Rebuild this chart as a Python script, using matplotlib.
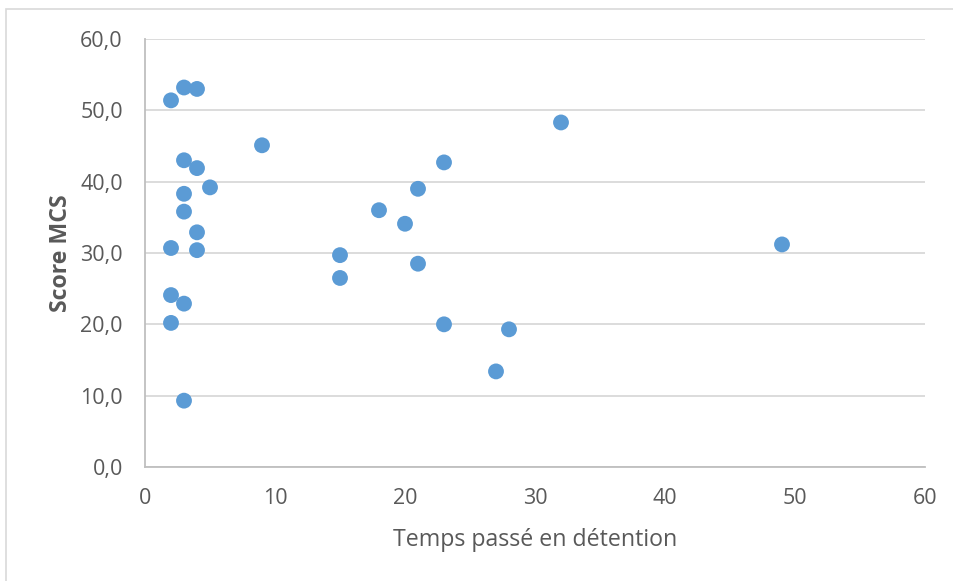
import matplotlib
matplotlib.use("Agg")
import matplotlib.pyplot as plt
from matplotlib.patches import Rectangle
from matplotlib.ticker import FuncFormatter, MultipleLocator

# Detention time (x) and MCS score (y)
temps_detention = [2, 3, 4, 9, 3, 4, 3, 5, 3, 4, 2, 4, 2, 3, 2, 3,
                   32, 23, 21, 18, 20, 15, 21, 15, 23, 28, 27, 49]
score_mcs = [51.4, 53.2, 53.0, 45.1, 43.0, 41.9, 38.3, 39.2, 35.8, 32.9,
             30.7, 30.4, 24.1, 22.9, 20.2, 9.3,
             48.3, 42.7, 39.0, 36.0, 34.1, 29.7, 28.5, 26.5, 20.0, 19.3,
             13.4, 31.2]

x_label = "Temps passé en détention"
y_label = "Score MCS"

plt.rcParams["font.family"] = ["Open Sans", "DejaVu Sans"]
text_color = "#595959"

fig = plt.figure(figsize=(9.54, 5.81), dpi=100)
fig.patches.append(Rectangle((6 / 954, -0.1), 1.2, (581 - 9) / 581 + 0.1,
                             transform=fig.transFigure, fill=False,
                             edgecolor="#D9D9D9", linewidth=1.2))

ax = fig.add_axes([145 / 954, (581 - 467) / 581, 780 / 954, 428 / 581])
ax.scatter(temps_detention, score_mcs, s=130, color="#5B9BD5",
           edgecolors="none", zorder=3)

ax.set_xlim(0, 60)
ax.set_ylim(0, 60)
ax.xaxis.set_major_locator(MultipleLocator(10))
ax.yaxis.set_major_locator(MultipleLocator(10))
ax.yaxis.set_major_formatter(FuncFormatter(lambda v, p: f"{v:.1f}".replace(".", ",")))

ax.grid(axis="y", color="#D9D9D9", linewidth=1.3, zorder=0)
ax.set_axisbelow(True)
for side in ("top", "right"):
    ax.spines[side].set_visible(False)
for side in ("left", "bottom"):
    ax.spines[side].set_color("#BFBFBF")
    ax.spines[side].set_linewidth(1.3)

ax.tick_params(axis="both", length=0, labelsize=15.5, labelcolor=text_color)
ax.tick_params(axis="y", pad=16)
ax.tick_params(axis="x", pad=15)

ax.set_xlabel(x_label, fontsize=16.7, color=text_color, labelpad=14)
ax.set_ylabel(y_label, fontsize=16.7, color=text_color, fontweight="bold",
              labelpad=5)

fig.savefig("out.png", dpi=100)
